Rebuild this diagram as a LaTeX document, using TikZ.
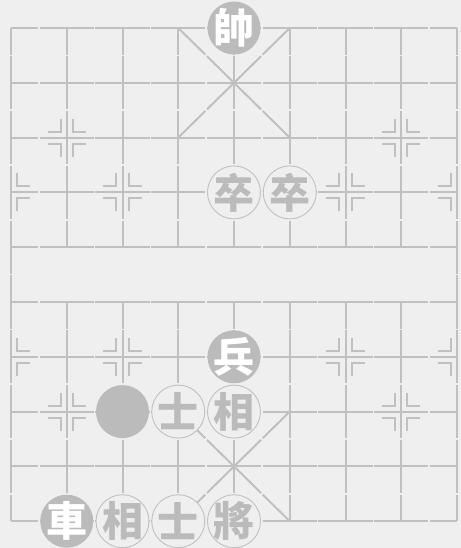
\documentclass[tikz,border=0pt]{standalone}
\usepackage{fontspec}
\usepackage{tikz}
\usetikzlibrary{positioning}
\newfontfamily\cjk{Noto Sans CJK TC}
\definecolor{boardbg}{HTML}{EFEFEF}
\definecolor{boardln}{HTML}{C0C0C0}
\definecolor{piecegray}{HTML}{BBBBBB}

\begin{document}
\begin{tikzpicture}[
    x={(55.75pt,0)}, y={(0,-54.8pt)},
    ln/.style={draw=boardln, line width=2pt},
    pc/.style={circle, inner sep=-7pt, minimum size=53pt, font=\cjk\bfseries\fontsize{41}{41}\selectfont},
    redpc/.style={pc, fill=piecegray, text=white},
    blkpc/.style={pc, draw=boardln, line width=0.9pt, fill=boardbg, text=piecegray}
  ]
    \fill[boardbg] (-0.1973,-0.5109) rectangle (8.0717,9.4891);
    \useasboundingbox (-0.1973,-0.5109) rectangle (8.0717,9.4891);
    \foreach \j in {0,...,9}
      \foreach \i in {0,...,7}
        \draw[ln] (\i,\j) -- ++(0.485,0) (\i+0.515,\j) -- ++(0.485,0);
    \foreach \i in {0,8}
      \foreach \j in {0,...,8}
        \draw[ln] (\i,\j) -- ++(0,0.485) (\i,\j+0.515) -- ++(0,0.485);
    \foreach \i in {1,...,7}
      \foreach \j in {0,1,2,3,5,6,7,8}
        \draw[ln] (\i,\j) -- ++(0,0.485) (\i,\j+0.515) -- ++(0,0.485);
    \foreach \c in {1,8}
      \foreach \dx/\dy in {1/1,1/-1,-1/1,-1/-1}
        \draw[ln] (4,\c) -- ++(0.485*\dx,0.485*\dy) ++(0.03*\dx,0.03*\dy) -- ++(0.485*\dx,0.485*\dy);
    \foreach \i/\j/\s in {0/3/1, 0/6/1, 8/3/-1, 8/6/-1,
                          1/2/1, 1/2/-1, 7/2/1, 7/2/-1, 2/3/1, 2/3/-1, 6/3/1, 6/3/-1,
                          2/6/1, 2/6/-1, 6/6/1, 6/6/-1, 1/7/1, 1/7/-1, 7/7/1, 7/7/-1}
      \foreach \t in {1,-1}
        \draw[ln] (\i+\s*0.108,\j+\t*0.347) -- (\i+\s*0.108,\j+\t*0.109) -- (\i+\s*0.341,\j+\t*0.109);

    \node[redpc] (shuai) at (4,0) {帥};
    \node[blkpc] (zu1) at (4,3) {卒};
    \node[blkpc] (zu2) at (5,3) {卒};
    \node[redpc] (bing) at (4,6) {兵};
    \node[redpc] (dot) at (2,7) {};
    \node[blkpc] (shi1) at (3,7) {士};
    \node[blkpc] (xiang1) at (4,7) {相};
    \node[redpc] (ju) at (1,9) {車};
    \node[blkpc] (xiang2) at (2,9) {相};
    \node[blkpc] (shi2) at (3,9) {士};
    \node[blkpc] (jiang) at (4,9) {將};
  \end{tikzpicture}
\end{document}
